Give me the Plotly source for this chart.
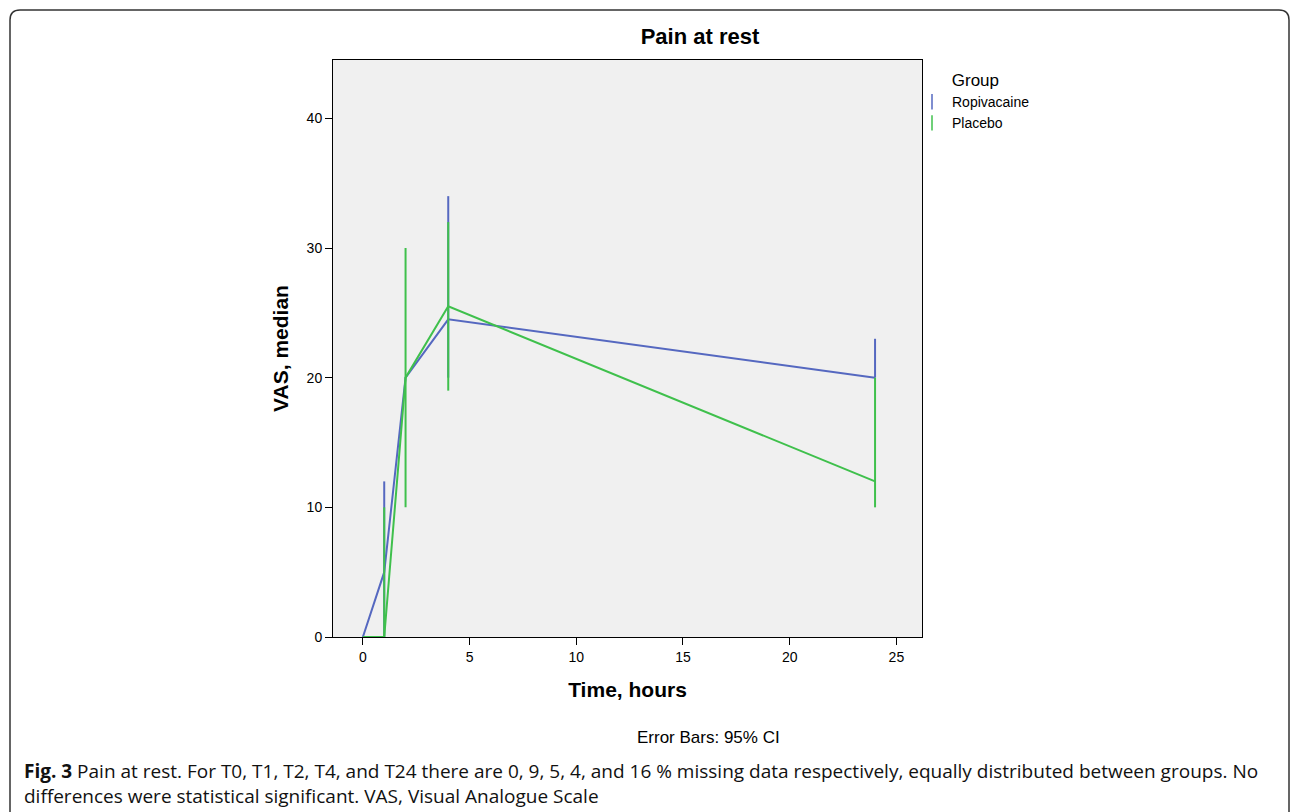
import plotly.graph_objects as go

# ---- data ----
hours = [0, 1, 2, 4, 24]
ropi_median = [0, 5, 20, 24.5, 20]
ropi_ci_low = [0, 0, 20, 20, 20]
ropi_ci_high = [0, 12, 20, 34, 23]
plac_median = [0, 0, 20, 25.5, 12]
plac_ci_low = [0, 0, 10, 19, 10]
plac_ci_high = [0, 10, 30, 32, 20]
groups = ["Ropivacaine", "Placebo"]
colors = ["#5568c0", "#3fc04c"]
x_ticks = [0, 5, 10, 15, 20, 25]
y_ticks = [0, 10, 20, 30, 40]

W, H = 1292, 812
L, R, T, B = 333, 922, 60, 637  # plot area in px


def px(x):
    return (x - L) / (R - L)


def py(y):
    return (B - y) / (B - T)


fig = go.Figure()
series = [
    (ropi_median, ropi_ci_low, ropi_ci_high),
    (plac_median, plac_ci_low, plac_ci_high),
]
for name, color, (med, lo, hi) in zip(groups, colors, series):
    fig.add_trace(go.Scatter(
        x=hours, y=med, mode="lines", name=name, showlegend=False,
        line=dict(color=color, width=2),
        error_y=dict(type="data", symmetric=False,
                     array=[h - m for h, m in zip(hi, med)],
                     arrayminus=[m - l for m, l in zip(med, lo)],
                     color=color, thickness=2, width=0),
    ))
for name, color in zip(groups, colors):
    fig.add_trace(go.Scatter(
        x=[None], y=[None], mode="markers", name=name,
        marker=dict(symbol="line-ns-open", size=11, color=color,
                    line=dict(color=color, width=1.5)),
    ))

fig.update_layout(
    width=W, height=H,
    margin=dict(l=L, r=W - R, t=T, b=H - B, pad=0),
    paper_bgcolor="white", plot_bgcolor="#f0f0f0",
    font=dict(family="Liberation Sans, Arial, sans-serif", color="black"),
    title=dict(text="<b>Pain at rest</b>", x=px(700), xref="paper",
               xanchor="center", y=1 - 36 / H, yanchor="middle",
               font=dict(size=22)),
    showlegend=True,
    legend=dict(x=px(912), y=py(64), xanchor="left", yanchor="top",
                bgcolor="rgba(0,0,0,0)", itemwidth=30,
                title=dict(text="\u00a0" * 8 + "Group", font=dict(size=17)),
                font=dict(size=14), tracegroupgap=0),
    xaxis=dict(range=[-1.4, 26.2], tickvals=x_ticks, showgrid=False,
               zeroline=False, showline=True, linecolor="black",
               linewidth=1, mirror=True, ticks="outside", ticklen=7,
               tickcolor="black", tickfont=dict(size=14),
               title=dict(text="<b>Time, hours</b>", font=dict(size=21),
                          standoff=18)),
    yaxis=dict(range=[0, 44.5], tickvals=y_ticks, showgrid=False,
               zeroline=False, showline=True, linecolor="black",
               linewidth=1, mirror=True, ticks="outside", ticklen=7,
               tickcolor="black", tickfont=dict(size=14),
               title=dict(text="<b>VAS, median</b>", font=dict(size=21),
                          standoff=12)),
)

# outer rounded frame
x0, x1 = px(10), px(1289)
y0, y1 = py(10), py(820)
rx, ry = 10 / (R - L), 10 / (B - T)
path = (f"M {x0},{y1} L {x0},{y0 - ry} Q {x0},{y0} {x0 + rx},{y0} "
        f"L {x1 - rx},{y0} Q {x1},{y0} {x1},{y0 - ry} L {x1},{y1}")
fig.add_shape(type="path", path=path, xref="paper", yref="paper",
              line=dict(color="#333333", width=1.5))

fig.add_annotation(text="Error Bars: 95% CI", x=px(708), y=py(737),
                   xref="paper", yref="paper", showarrow=False,
                   xanchor="center", yanchor="middle",
                   font=dict(size=17, family="Liberation Sans, Arial"))
fig.add_annotation(
    text=("<b>Fig. 3</b> Pain at rest. For T0, T1, T2, T4, and T24 there are 0, 9, 5, 4, "
          "and 16 % missing data respectively, equally distributed between groups. No"),
    x=px(22), y=py(771), xref="paper", yref="paper", showarrow=False,
    xanchor="left", yanchor="middle",
    font=dict(size=19, family="Open Sans, sans-serif", color="#111111"))
fig.add_annotation(
    text="differences were statistical significant. VAS, Visual Analogue Scale",
    x=px(22), y=py(796), xref="paper", yref="paper", showarrow=False,
    xanchor="left", yanchor="middle",
    font=dict(size=19, family="Open Sans, sans-serif", color="#111111"))

fig.write_html("out.html", config={"displayModeBar": False},
               post_script="document.body.style.margin='0px';"
                           "document.body.style.overflow='hidden';")
